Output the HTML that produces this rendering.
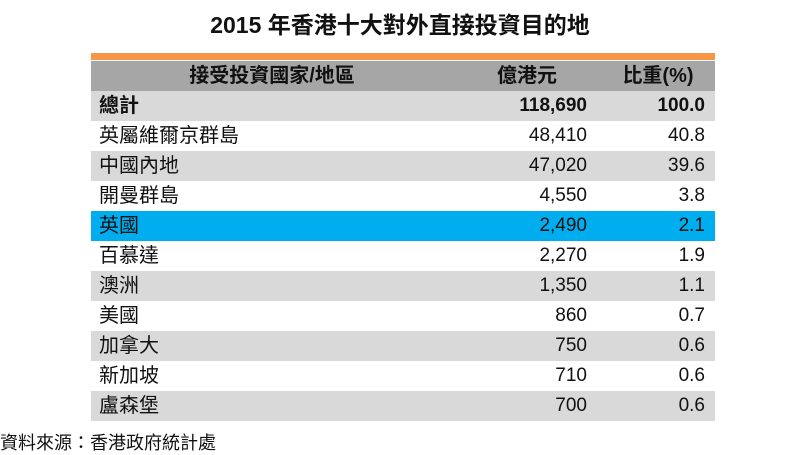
<!DOCTYPE html>
<html><head><meta charset="utf-8"><style>
body{margin:0;width:800px;height:455px;background:#fff;position:relative;overflow:hidden;font-family:"Liberation Sans","Noto Sans CJK TC",sans-serif;color:#111}
.title{position:absolute;top:6px;left:0;width:800px;text-align:center;font-size:23px;font-weight:bold}
.bar{position:absolute;left:91px;top:53px;width:624px;height:7px;background:#f79646}
.row{position:absolute;left:91px;width:624px;height:30px;font-size:19px;line-height:30px}
.row div{position:absolute;top:0}
.c1{left:8px;font-size:20px}.c2{right:128px}.c3{right:10px}
.hd{background:#a6a6a6;font-weight:bold;font-size:20px}
.g{background:#d9d9d9}.b{background:#00aeef}
.src{position:absolute;left:0;top:429px;font-size:18px}
</style></head><body>
<div class="title">2015 年香港十大對外直接投資目的地</div>
<div class="bar"></div>
<div class="row hd" style="top:61px">
<div style="left:0;width:362px;text-align:center">接受投資國家/地區</div>
<div style="left:362px;width:148px;text-align:center">億港元</div>
<div style="left:510px;width:114px;text-align:center">比重(%)</div>
</div>
<div id="rows"></div>
<div class="src">資料來源：香港政府統計處</div>
<script>
const names=["總計","英屬維爾京群島","中國內地","開曼群島","英國","百慕達","澳洲","美國","加拿大","新加坡","盧森堡"];
const amounts=["118,690","48,410","47,020","4,550","2,490","2,270","1,350","860","750","710","700"];
const shares=["100.0","40.8","39.6","3.8","2.1","1.9","1.1","0.7","0.6","0.6","0.6"];
const host=document.getElementById('rows');
names.forEach((n,i)=>{
const r=document.createElement('div');


r.className='row '+(i===4?'b':(i%2===0?'g':''));
r.style.top=(91+i*30)+'px';
if(i===0)r.style.fontWeight='bold';
const a=document.createElement('div');a.className='c1';a.textContent=n;


const b=document.createElement('div');b.className='c2';b.textContent=amounts[i];


const c=document.createElement('div');c.className='c3';c.textContent=shares[i];


r.append(a,b,c);host.appendChild(r);
});
</script>
</body></html>
